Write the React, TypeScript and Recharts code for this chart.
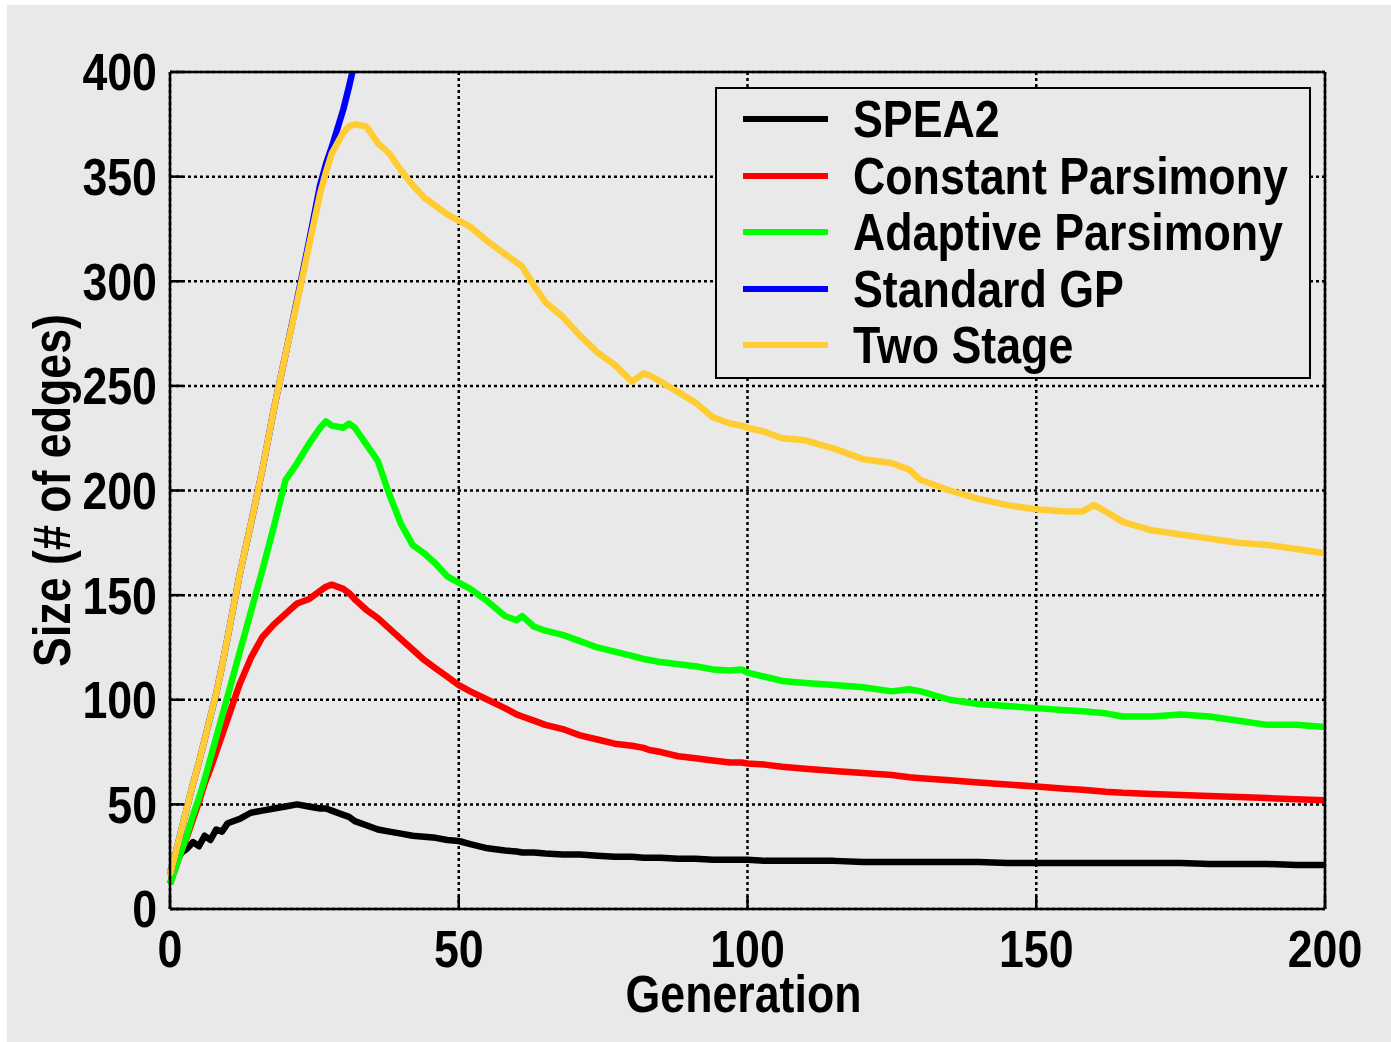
import { CartesianGrid, Legend, Line, LineChart, XAxis, YAxis } from 'recharts'

const generations = [
  0, 1, 2, 3, 4, 5, 6, 7, 8, 9, 10,
  12, 14, 16, 18, 20, 22, 24, 26,
  27, 28,
  30, 31, 32,
  34, 36, 38, 40,
  42, 44, 46, 48, 50,
  52, 55, 58, 60, 61, 63, 65,
  68, 71, 74, 77, 80,
  82, 83, 85, 88, 91,
  94, 97, 99, 100,
  103, 106, 110,
  115, 120, 125, 128, 130,
  135, 140, 145, 150, 155,
  158, 160, 162, 165,
  170, 175, 180, 185, 190, 195, 200,
]

const spea2 = [
  18, 22, 27, 29, 32, 30, 35, 33, 38, 37, 41,
  43, 46, 47, 48, 49, 50, 49, 48,
  48, 47,
  45, 44, 42,
  40, 38, 37, 36,
  35, 34.5, 34, 33, 32.5,
  31, 29, 28, 27.5, 27, 27, 26.5,
  26, 26, 25.5, 25, 25,
  24.5, 24.5, 24.5, 24, 24,
  23.5, 23.5, 23.5, 23.5,
  23, 23, 23,
  23, 22.5, 22.5, 22.5, 22.5,
  22.5, 22.5, 22, 22, 22,
  22, 22, 22, 22,
  22, 22, 21.5, 21.5, 21.5, 21, 21,
]

const constantParsimony = [
  12, 20, 28, 35, 43, 51, 60, 67, 75, 83, 91,
  107, 120, 130, 136, 141, 146, 148, 152,
  154, 155,
  153, 151, 148,
  143, 139, 134, 129,
  124, 119, 115, 111, 107,
  104, 100, 96, 93, 92, 90, 88,
  86, 83, 81, 79, 78,
  77, 76, 75, 73, 72,
  71, 70, 70, 69.5,
  69, 68, 67,
  66, 65, 64, 63, 62.5,
  61.5, 60.5, 59.5, 58.5, 57.5,
  57, 56.5, 56, 55.5,
  55, 54.5, 54, 53.5, 53, 52.5, 52,
]

const adaptiveParsimony = [
  12, 20, 28, 36, 45, 53, 62, 72, 82, 92, 102,
  122, 142, 162, 183, 205, 213, 222, 230,
  233, 231,
  230, 232, 230,
  222, 214, 198, 184,
  174, 170, 165, 159, 156,
  153, 147, 140, 138, 140, 135, 133,
  131, 128, 125, 123, 121,
  119.5, 119, 118, 117, 116,
  114.5, 114, 114.5, 113,
  111, 109, 108,
  107, 106, 104, 105, 104,
  100, 98, 97, 96, 95,
  94.5, 94, 93.5, 92,
  92, 93, 92, 90, 88, 88, 87,
]

// runs off the top of the plot after generation 32
const standardGp = [
  16, 27, 38, 49, 60, 70, 81, 92, 103, 116, 130,
  159, 184, 210, 239, 265, 291, 318, 346,
  356, 364,
  382, 393, 405,
]

const twoStage = [
  16, 27, 38, 49, 60, 70, 81, 92, 103, 116, 130,
  159, 184, 210, 239, 265, 290, 316, 342,
  352, 361,
  371, 374, 375,
  374, 366, 361, 353,
  346, 340, 336, 332, 329,
  326, 319, 313, 309, 307, 298, 290,
  283, 274, 266, 260, 252,
  256, 255, 252, 247, 242,
  235, 232, 231, 230,
  228, 225, 224,
  220, 215, 213, 210, 205,
  200, 196, 193, 191, 190,
  190, 193, 190, 185,
  181, 179, 177, 175, 174, 172, 170,
]

const xTicks = [0, 50, 100, 150, 200]
const yTicks = [0, 50, 100, 150, 200, 250, 300, 350, 400]

const series = [
  { key: 'spea2', name: 'SPEA2', color: '#000000' },
  { key: 'constant', name: 'Constant Parsimony', color: '#ff0000' },
  { key: 'adaptive', name: 'Adaptive Parsimony', color: '#00ff00' },
  { key: 'standard', name: 'Standard GP', color: '#0000ff' },
  { key: 'twoStage', name: 'Two Stage', color: '#ffcc33' },
]

const rows = generations.map((g, i) => ({
  g,
  spea2: spea2[i],
  constant: constantParsimony[i],
  adaptive: adaptiveParsimony[i],
  standard: standardGp[i] ?? null,
  twoStage: twoStage[i],
}))

const bg = '#e9e9e9'
const font = "'Liberation Sans', Arial, Helvetica, sans-serif"
const squeeze = 0.86 // the original type is a condensed bold sans
const textStyle = { fontFamily: font, fontSize: 52, fontWeight: 700, fill: '#000' }
const frame = { stroke: '#000', strokeWidth: 2.5 }

function XTick({ x, y, payload }: any) {
  return (
    <text x={0} y={0} dy="0.71em" textAnchor="middle" transform={`translate(${x},${y}) scale(${squeeze},1)`} style={textStyle}>
      {payload.value}
    </text>
  )
}

function YTick({ x, y, payload }: any) {
  return (
    <text x={0} y={0} dy="0.355em" textAnchor="end" transform={`translate(${x},${y}) scale(${squeeze},1)`} style={textStyle}>
      {payload.value}
    </text>
  )
}

function XLabel({ viewBox }: any) {
  const cx = viewBox.x + viewBox.width / 2 - 4
  const by = viewBox.y + 103
  return (
    <text x={0} y={0} textAnchor="middle" transform={`translate(${cx},${by}) scale(${squeeze},1)`} style={textStyle}>
      Generation
    </text>
  )
}

function YLabel({ viewBox }: any) {
  const cx = viewBox.x + 42
  const cy = viewBox.y + viewBox.height / 2
  return (
    <text
      x={0}
      y={0}
      dy="0.355em"
      textAnchor="middle"
      transform={`translate(${cx},${cy}) rotate(-90) scale(${squeeze},1)`}
      style={textStyle}
    >
      Size (# of edges)
    </text>
  )
}

function LegendBox({ payload }: any) {
  const order = series.map((s) => s.key)
  const items = [...(payload || [])].sort((a: any, b: any) => order.indexOf(a.dataKey) - order.indexOf(b.dataKey))
  return (
    <div
      style={{
        boxSizing: 'border-box',
        width: 596,
        height: 292,
        border: '2.5px solid #000',
        background: bg,
        paddingTop: 2,
      }}
    >
      {items.map((p: any) => (
        <div key={p.value} style={{ display: 'flex', alignItems: 'center', height: 56.5, whiteSpace: 'nowrap' }}>
          <svg width={85} height={8} style={{ marginLeft: 25.5, flex: 'none' }}>
            <line x1={0} x2={85} y1={4} y2={4} stroke={p.color} strokeWidth={6} />
          </svg>
          <span
            style={{
              display: 'inline-block',
              marginLeft: 25,
              fontFamily: font,
              fontSize: 52,
              fontWeight: 700,
              lineHeight: 1,
              color: '#000',
              transform: `scaleX(${squeeze})`,
              transformOrigin: 'left center',
            }}
          >
            {p.value}
          </span>
        </div>
      ))}
    </div>
  )
}

export default function App() {
  return (
    <div style={{ position: 'absolute', left: 7, top: 5, width: 1384, height: 1037, background: bg }}>
      <LineChart width={1384} height={1037} data={rows} margin={{ top: 65, right: 64, bottom: 23, left: 3 }}>
        <CartesianGrid stroke="#000" strokeWidth={2.5} strokeDasharray="3 3" />
        <XAxis
          dataKey="g"
          type="number"
          domain={[0, 200]}
          ticks={xTicks}
          height={110}
          tickSize={-13}
          tickMargin={34}
          axisLine={frame}
          tickLine={frame}
          tick={<XTick />}
          label={<XLabel />}
        />
        <XAxis
          xAxisId="top"
          orientation="top"
          dataKey="g"
          type="number"
          domain={[0, 200]}
          ticks={xTicks}
          height={2}
          tickSize={-13}
          axisLine={frame}
          tickLine={frame}
          tick={false}
        />
        <YAxis
          type="number"
          domain={[0, 400]}
          ticks={yTicks}
          allowDataOverflow
          width={160}
          tickSize={-13}
          tickMargin={26}
          axisLine={frame}
          tickLine={frame}
          tick={<YTick />}
          label={<YLabel />}
        />
        <YAxis
          yAxisId="right"
          orientation="right"
          type="number"
          domain={[0, 400]}
          ticks={yTicks}
          width={2}
          tickSize={-13}
          axisLine={frame}
          tickLine={frame}
          tick={false}
        />
        <Legend
          layout="horizontal"
          verticalAlign="middle"
          align="center"
          content={LegendBox}
          wrapperStyle={{ left: 708, top: 82, width: 596, height: 292 }}
        />
        {series.map((s) => (
          <Line
            key={s.key}
            type="linear"
            dataKey={s.key}
            name={s.name}
            stroke={s.color}
            strokeWidth={6.5}
            strokeLinejoin="round"
            dot={false}
            activeDot={false}
            isAnimationActive={false}
          />
        ))}
      </LineChart>
    </div>
  )
}
